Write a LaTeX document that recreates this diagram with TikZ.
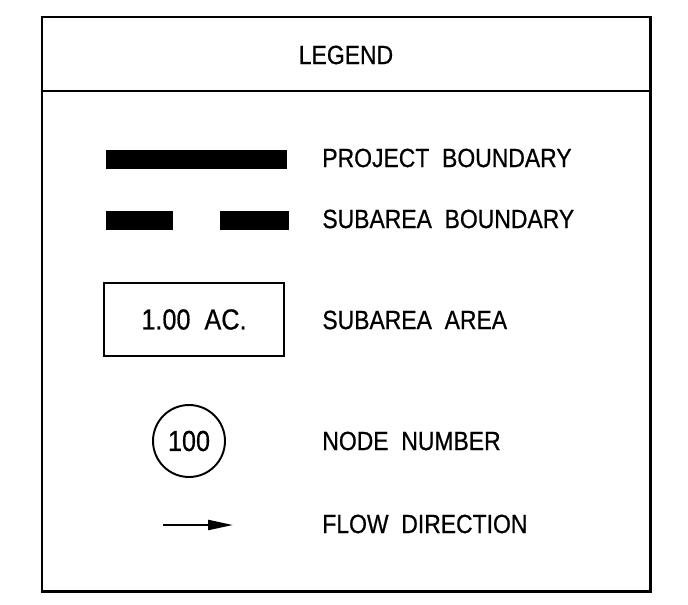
\documentclass[tikz,border=0pt]{standalone}
\usepackage{fontspec}
\setmainfont{Liberation Sans}
\newfontfamily\cadfont[FakeStretch=0.87,FakeBold=0.6]{Liberation Sans}
\usetikzlibrary{arrows.meta}
\begin{document}
\begin{tikzpicture}[x=0.02cm,y=-0.02cm,
  lbl/.style={anchor=west,inner sep=0pt,font=\cadfont\fontsize{15}{18}\selectfont},
  sym/.style={draw,line width=1.1pt,inner sep=0pt,font=\cadfont\fontsize{16.5}{19}\selectfont}]
\useasboundingbox (0,0) rectangle (688,604);
\draw[line width=1.7pt] (42,17) rectangle (650,591);
\draw[line width=1.2pt] (42,91) -- (650,91);
\node[font=\cadfont\fontsize{15}{18}\selectfont] (title) at (346,55) {LEGEND};

% boundary lines
\fill (106,150) rectangle (287,169);
\fill (106,211) rectangle (173,230);
\fill (220,211) rectangle (289,230);

\node[sym,minimum width=3.6cm,minimum height=1.46cm] (area) at (194,319.5) {1.00\ \ AC.\hspace{0.3cm}};
\node[sym,circle,minimum size=1.44cm] (nodenum) at (189,441) {100};

\coordinate (flowa) at (163,525);
\coordinate (flowb) at (233,525);
\draw[line width=1.3pt,-{Triangle[length=0.5cm,width=0.2cm]}] (flowa) -- (flowb);

\node[lbl] (proj) at (322,158) {PROJECT\ \ BOUNDARY};
\node[lbl] (sub) at (322,219) {SUBAREA\ \ BOUNDARY};
\node[lbl] (subarea) at (322,320) {SUBAREA\ \ AREA};
\node[lbl] (nodelbl) at (322,441) {NODE\ \ NUMBER};
\node[lbl] (flowlbl) at (322,524) {FLOW\ \ DIRECTION};
\end{tikzpicture}
\end{document}
